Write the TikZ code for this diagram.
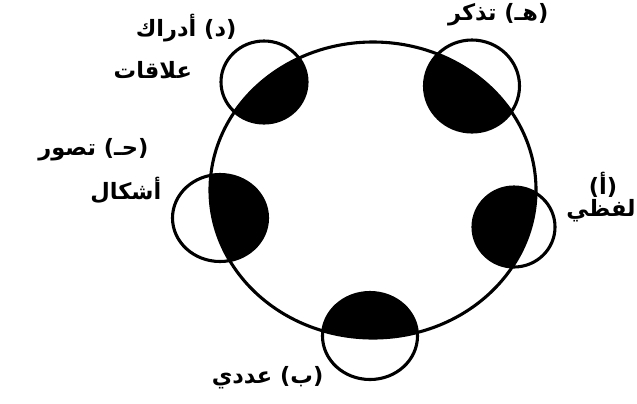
\documentclass[tikz,border=0pt]{standalone}
\usepackage{fontspec}
\usepackage{tikz}
\TeXXeTstate=1
\newfontfamily\arabicfont[Script=Arabic]{DejaVu Sans}
\newcommand{\ar}[1]{\arabicfont\bfseries\beginR #1\endR}
\tikzset{
  ring/.style  = {draw=black, line width=2.2pt},
  lens/.style  = {fill=black},
  lbl/.style   = {font=\fontsize{16}{18}\selectfont, inner sep=1pt, text=black},
}

\begin{document}
\begin{tikzpicture}[x=0.025cm, y=-0.025cm]
  \useasboundingbox (0,0) rectangle (637,403);

  % ---------- centres of the big ring and the five small rings ----------
  \coordinate (big) at (373,190);
  \coordinate (ca)  at (514,227);   % (a) right
  \coordinate (cb)  at (370,336);   % (b) bottom
  \coordinate (cj)  at (220,218);   % (j) left
  \coordinate (cd)  at (264, 82);   % (d) top left
  \coordinate (ch)  at (472, 86);   % (h) top right

  % ---------- shaded overlaps ------------------------------------------
  \begin{scope}
    \clip (big) ellipse [x radius=163, y radius=148];
    \fill[lens] (ca) ellipse [x radius=41,   y radius=40];
    \fill[lens] (cb) ellipse [x radius=47.5, y radius=43.5];
    \fill[lens] (cj) ellipse [x radius=47.5, y radius=43.5];
    \fill[lens] (cd) ellipse [x radius=43,   y radius=41];
    \fill[lens] (ch) ellipse [x radius=47.5, y radius=46];
  \end{scope}

  % ---------- rings ----------------------------------------------------
  \draw[ring] (big) ellipse [x radius=163, y radius=148];
  \draw[ring] (ca) ellipse [x radius=41,   y radius=40];
  \draw[ring] (cb) ellipse [x radius=47.5, y radius=43.5];
  \draw[ring] (cj) ellipse [x radius=47.5, y radius=43.5];
  \draw[ring] (cd) ellipse [x radius=43,   y radius=41];
  \draw[ring] (ch) ellipse [x radius=47.5, y radius=46];

  % ---------- labels ---------------------------------------------------
  \node[lbl] (la1) at (603,185) {\ar{(أ)}};
  \node[lbl] (la2) at (601,211) {\ar{لفظي}};
  \node[lbl, anchor=east] (lb) at (325,378) {\ar{(ب) عددي}};
  \node[lbl, anchor=east] (lj1) at (150,150) {\ar{(حـ) تصور}};
  \node[lbl, anchor=east] (lj2) at (163,190) {\ar{أشكال}};
  \node[lbl, anchor=east] (ld1) at (238, 28) {\ar{(د) أدراك}};
  \node[lbl, anchor=west] (ld2) at (112, 70) {\ar{علاقات}};
  \node[lbl, anchor=east] (lh)  at (550, 15) {\ar{(هـ) تذكر}};

\end{tikzpicture}
\end{document}
